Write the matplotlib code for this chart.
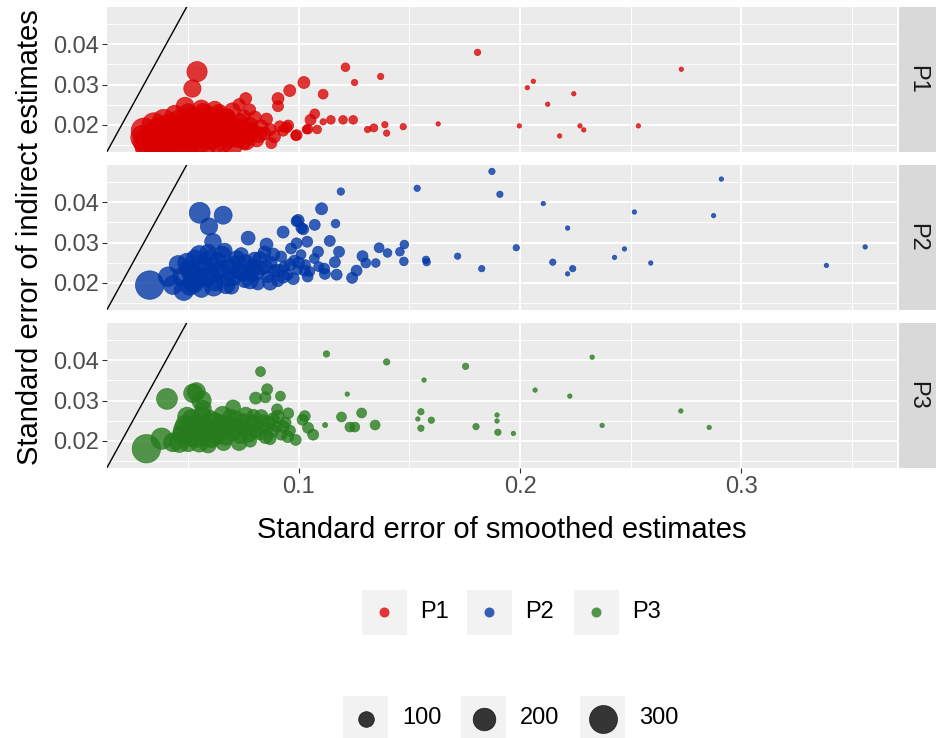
import numpy as np
import matplotlib.pyplot as plt
from matplotlib.patches import Rectangle

panels = ['P1', 'P2', 'P3']
colours = ['#DA0000', '#0036A6', '#267B1C']
size_breaks = [100, 200, 300]

# P1 (x = SE smoothed, y = SE indirect, n = size)
p1_x = [0.0296, 0.0310, 0.0335, 0.0350, 0.0365, 0.0380, 0.0400, 0.0410, 0.0425, 0.0440,
        0.0455, 0.0470, 0.0480, 0.0495, 0.0505, 0.0520, 0.0535, 0.0550, 0.0565, 0.0580,
        0.0590, 0.0605, 0.0620, 0.0635, 0.0650, 0.0660, 0.0675, 0.0690, 0.0705, 0.0720,
        0.0735, 0.0750, 0.0765, 0.0780, 0.0795, 0.0810, 0.0830, 0.0845, 0.0870, 0.0890,
        0.0300, 0.0320, 0.0345, 0.0360, 0.0375, 0.0390, 0.0405, 0.0420, 0.0435, 0.0450,
        0.0465, 0.0478, 0.0490, 0.0510, 0.0525, 0.0545, 0.0560, 0.0575, 0.0595, 0.0610,
        0.0628, 0.0645, 0.0668, 0.0685, 0.0700, 0.0715, 0.0742, 0.0760, 0.0785, 0.0820,
        0.0440, 0.0500, 0.0560, 0.0640, 0.0700,
        0.0540, 0.0519, 0.0486, 0.0620, 0.0567, 0.0680, 0.0751, 0.0801, 0.0854, 0.0760,
        0.0730, 0.0778, 0.0906, 0.0906, 0.0914, 0.0952, 0.0990, 0.1041, 0.0876, 0.0756,
        0.0944, 0.0929, 0.0959, 0.1023, 0.1110, 0.1072, 0.1053, 0.1110, 0.1145, 0.1200,
        0.1246, 0.1035, 0.1083, 0.0986, 0.1311, 0.1339, 0.1389, 0.1397, 0.1472, 0.1211,
        0.1252, 0.1370, 0.1808, 0.2729, 0.2060, 0.2033, 0.2243, 0.2125, 0.1630, 0.1997,
        0.2271, 0.2288, 0.2179, 0.2535]
p1_y = [0.0168, 0.0158, 0.0175, 0.0152, 0.0190, 0.0165, 0.0150, 0.0200, 0.0178, 0.0158,
        0.0210, 0.0188, 0.0165, 0.0150, 0.0220, 0.0195, 0.0172, 0.0155, 0.0205, 0.0228,
        0.0185, 0.0165, 0.0210, 0.0192, 0.0175, 0.0155, 0.0218, 0.0200, 0.0182, 0.0165,
        0.0208, 0.0190, 0.0172, 0.0200, 0.0182, 0.0162, 0.0195, 0.0178, 0.0188, 0.0170,
        0.0185, 0.0145, 0.0200, 0.0170, 0.0150, 0.0210, 0.0180, 0.0160, 0.0195, 0.0172,
        0.0152, 0.0205, 0.0180, 0.0160, 0.0215, 0.0185, 0.0170, 0.0150, 0.0200, 0.0180,
        0.0158, 0.0220, 0.0190, 0.0168, 0.0150, 0.0195, 0.0178, 0.0160, 0.0185, 0.0175,
        0.0225, 0.0230, 0.0240, 0.0230, 0.0235,
        0.0332, 0.0290, 0.0246, 0.0239, 0.0235, 0.0222, 0.0221, 0.0218, 0.0214, 0.0265,
        0.0250, 0.0237, 0.0265, 0.0246, 0.0196, 0.0198, 0.0174, 0.0189, 0.0154, 0.0154,
        0.0193, 0.0185, 0.0285, 0.0305, 0.0276, 0.0227, 0.0212, 0.0207, 0.0212, 0.0212,
        0.0212, 0.0188, 0.0188, 0.0173, 0.0188, 0.0192, 0.0200, 0.0179, 0.0195, 0.0343,
        0.0305, 0.0320, 0.0380, 0.0338, 0.0308, 0.0292, 0.0277, 0.0251, 0.0202, 0.0197,
        0.0197, 0.0187, 0.0172, 0.0197]
p1_n = [234, 256, 213, 245, 192, 223, 234, 171, 202, 213,
        161, 181, 202, 213, 140, 171, 181, 192, 150, 120,
        161, 171, 129, 140, 150, 140, 110, 120, 129, 120,
        100, 110, 110, 90, 90, 80, 80, 70, 61, 61,
        250, 270, 220, 240, 260, 200, 230, 240, 200, 220,
        240, 180, 200, 220, 160, 190, 200, 210, 160, 170,
        180, 130, 150, 160, 170, 120, 130, 140, 110, 100,
        140, 130, 120, 110, 100,
        161, 120, 129, 100, 90, 80, 70, 70, 61, 61,
        61, 61, 61, 52, 52, 52, 52, 43, 52, 61,
        52, 52, 61, 61, 43, 43, 52, 20, 34, 34,
        34, 34, 34, 43, 20, 30, 20, 20, 20, 34,
        20, 20, 20, 11, 11, 11, 11, 11, 11, 11,
        11, 11, 11, 11]

# P2
p2_x = [0.0326, 0.0431, 0.0470, 0.0507, 0.0500, 0.0530, 0.0545, 0.0560, 0.0575, 0.0590,
        0.0605, 0.0620, 0.0635, 0.0650, 0.0665, 0.0680, 0.0695, 0.0710, 0.0725, 0.0740,
        0.0755, 0.0770, 0.0785, 0.0800, 0.0815, 0.0830, 0.0845, 0.0860, 0.0875, 0.0890,
        0.0905, 0.0920, 0.0935, 0.0950, 0.0965, 0.0980, 0.0995, 0.1010, 0.1030, 0.1050,
        0.1070, 0.1090,
        0.0480, 0.0495, 0.0515, 0.0525, 0.0550, 0.0565, 0.0585, 0.0600, 0.0615, 0.0640,
        0.0655, 0.0670, 0.0690, 0.0705, 0.0720, 0.0745, 0.0760, 0.0780, 0.0795, 0.0810,
        0.0825, 0.0850, 0.0870, 0.0885, 0.0910, 0.0930, 0.0960, 0.0975, 0.1000, 0.1040,
        0.0410, 0.0455,
        0.0552, 0.0658, 0.0594, 0.0612, 0.0771, 0.0854, 0.0929, 0.1012,
        0.0990, 0.1072, 0.1190, 0.1103, 0.0997, 0.1020, 0.1166, 0.1140, 0.1182, 0.1163,
        0.1087, 0.1115, 0.1171, 0.1288, 0.1303, 0.1261, 0.1241, 0.1348, 0.1363, 0.1401,
        0.1457, 0.1477, 0.1475, 0.1578, 0.1575, 0.1038, 0.0990, 0.1027, 0.1118, 0.1873,
        0.1535, 0.1909, 0.1983, 0.1718, 0.2148, 0.1827, 0.2238, 0.2910, 0.2105, 0.2517,
        0.2875, 0.2215, 0.2472, 0.2427, 0.2591, 0.2215, 0.3560, 0.3385]
p2_y = [0.0194, 0.0194, 0.0215, 0.0192, 0.0235, 0.0260, 0.0210, 0.0185, 0.0240, 0.0275,
        0.0220, 0.0200, 0.0255, 0.0235, 0.0280, 0.0210, 0.0190, 0.0248, 0.0228, 0.0270,
        0.0205, 0.0240, 0.0220, 0.0260, 0.0198, 0.0235, 0.0275, 0.0215, 0.0250, 0.0230,
        0.0205, 0.0265, 0.0240, 0.0220, 0.0285, 0.0255, 0.0232, 0.0270, 0.0245, 0.0228,
        0.0260, 0.0240,
        0.0180, 0.0250, 0.0225, 0.0200, 0.0270, 0.0245, 0.0215, 0.0260, 0.0190, 0.0230,
        0.0270, 0.0195, 0.0240, 0.0215, 0.0260, 0.0225, 0.0250, 0.0205, 0.0240, 0.0225,
        0.0260, 0.0240, 0.0200, 0.0270, 0.0230, 0.0215, 0.0245, 0.0210, 0.0250, 0.0215,
        0.0215, 0.0245,
        0.0374, 0.0368, 0.0340, 0.0302, 0.0311, 0.0295, 0.0326, 0.0336,
        0.0353, 0.0344, 0.0427, 0.0384, 0.0355, 0.0333, 0.0347, 0.0304, 0.0277, 0.0251,
        0.0277, 0.0235, 0.0220, 0.0266, 0.0249, 0.0230, 0.0212, 0.0249, 0.0287, 0.0274,
        0.0277, 0.0295, 0.0253, 0.0251, 0.0257, 0.0302, 0.0298, 0.0230, 0.0222, 0.0477,
        0.0435, 0.0420, 0.0287, 0.0266, 0.0251, 0.0235, 0.0235, 0.0458, 0.0397, 0.0376,
        0.0367, 0.0336, 0.0284, 0.0263, 0.0249, 0.0222, 0.0289, 0.0243]
p2_n = [310, 140, 129, 140, 120, 120, 129, 120, 120, 110,
        120, 110, 110, 100, 90, 100, 90, 90, 90, 80,
        80, 80, 80, 70, 70, 70, 70, 61, 61, 61,
        61, 52, 52, 52, 52, 52, 43, 43, 43, 43,
        43, 43,
        150, 140, 150, 160, 130, 130, 140, 120, 140, 120,
        110, 130, 110, 120, 100, 110, 100, 110, 90, 90,
        80, 80, 90, 70, 70, 70, 60, 60, 55, 50,
        150, 130,
        171, 129, 120, 110, 80, 70, 61, 52,
        52, 52, 26, 61, 61, 52, 34, 52, 52, 52,
        52, 52, 52, 52, 43, 52, 52, 34, 43, 34,
        34, 34, 34, 26, 26, 52, 52, 52, 52, 20,
        20, 20, 20, 20, 20, 20, 20, 11, 11, 11,
        11, 11, 11, 11, 11, 11, 11, 11]

# P3
p3_x = [0.0311, 0.0404, 0.0431, 0.0470, 0.0485, 0.0500, 0.0515, 0.0522, 0.0537, 0.0530,
        0.0545, 0.0560, 0.0567, 0.0575, 0.0590, 0.0600, 0.0615, 0.0630, 0.0645, 0.0660,
        0.0675, 0.0690, 0.0703, 0.0720, 0.0735, 0.0750, 0.0765, 0.0780, 0.0795, 0.0810,
        0.0825, 0.0840, 0.0855, 0.0870, 0.0885, 0.0900, 0.0920, 0.0940, 0.0960,
        0.0460, 0.0478, 0.0495, 0.0510, 0.0525, 0.0550, 0.0565, 0.0585, 0.0605, 0.0620,
        0.0640, 0.0655, 0.0670, 0.0685, 0.0700, 0.0715, 0.0730, 0.0745, 0.0760, 0.0775,
        0.0790, 0.0805, 0.0830, 0.0850, 0.0865, 0.0880, 0.0905, 0.0930, 0.0950, 0.0380,
        0.0560,
        0.0827, 0.0857, 0.0805, 0.0849, 0.0917, 0.0952, 0.0902, 0.1027, 0.1017, 0.1042,
        0.1065, 0.0986, 0.1119, 0.1193, 0.1284, 0.1253, 0.1231, 0.1345, 0.1125, 0.1397,
        0.1754, 0.1552, 0.1599, 0.1552, 0.1801, 0.1900, 0.1566, 0.1219, 0.2326, 0.2068,
        0.2225, 0.2727, 0.2855, 0.2371, 0.1538, 0.1896, 0.1896, 0.1970]
p3_y = [0.0180, 0.0304, 0.0196, 0.0215, 0.0240, 0.0195, 0.0255, 0.0318, 0.0322, 0.0225,
        0.0205, 0.0240, 0.0280, 0.0215, 0.0190, 0.0255, 0.0230, 0.0210, 0.0245, 0.0195,
        0.0225, 0.0260, 0.0283, 0.0238, 0.0210, 0.0250, 0.0228, 0.0200, 0.0262, 0.0240,
        0.0218, 0.0250, 0.0230, 0.0205, 0.0255, 0.0235, 0.0215, 0.0245, 0.0225,
        0.0195, 0.0228, 0.0260, 0.0210, 0.0240, 0.0195, 0.0262, 0.0230, 0.0205, 0.0248,
        0.0225, 0.0265, 0.0210, 0.0240, 0.0220, 0.0255, 0.0195, 0.0235, 0.0265, 0.0215,
        0.0245, 0.0225, 0.0260, 0.0210, 0.0245, 0.0225, 0.0260, 0.0235, 0.0210, 0.0205,
        0.0300,
        0.0372, 0.0328, 0.0306, 0.0308, 0.0311, 0.0268, 0.0278, 0.0261, 0.0252, 0.0232,
        0.0215, 0.0202, 0.0239, 0.0259, 0.0269, 0.0234, 0.0234, 0.0239, 0.0416, 0.0396,
        0.0385, 0.0272, 0.0251, 0.0231, 0.0235, 0.0221, 0.0351, 0.0316, 0.0408, 0.0326,
        0.0311, 0.0274, 0.0233, 0.0238, 0.0254, 0.0264, 0.0249, 0.0218]
p3_n = [310, 171, 140, 140, 140, 129, 129, 140, 129, 129,
        120, 120, 110, 120, 110, 110, 110, 100, 100, 100,
        90, 90, 90, 90, 80, 80, 80, 70, 70, 70,
        70, 61, 61, 61, 61, 52, 52, 52, 52,
        150, 150, 140, 150, 140, 140, 130, 130, 130, 120,
        120, 110, 120, 110, 110, 100, 100, 100, 90, 90,
        90, 80, 80, 80, 70, 70, 70, 60, 60, 180,
        150,
        43, 52, 61, 52, 43, 52, 52, 52, 52, 52,
        52, 52, 14, 43, 43, 43, 43, 43, 20, 20,
        20, 20, 20, 20, 20, 20, 11, 11, 11, 11,
        11, 11, 11, 11, 11, 11, 11, 11]

data_x = [p1_x, p2_x, p3_x]
data_y = [p1_y, p2_y, p3_y]
data_n = [p1_n, p2_n, p3_n]

W, H = 938, 738
ALPHA = 0.78


def point_area(n):
    # ggplot-like area scale: diameter (px) linear in sqrt(n), px -> pt at 100 dpi
    d = 15.7 + 1.68 * (np.sqrt(np.asarray(n, dtype=float)) - 10)
    return (d * 0.72) ** 2


def rect(left, top, width, height):
    return [left / W, 1 - (top + height) / H, width / W, height / H]


plt.rcParams['font.family'] = ['Liberation Sans', 'DejaVu Sans']

fig = plt.figure(figsize=(W / 100, H / 100), dpi=100)
fig.patch.set_facecolor('white')

# overlay for legends / labels in pixel space
ov = fig.add_axes([0, 0, 1, 1])
ov.set_xlim(0, W)
ov.set_ylim(H, 0)
ov.axis('off')

tops = [7, 165, 323]
pan_left, pan_w, pan_h = 107, 790, 145

for i, name in enumerate(panels):
    ax = fig.add_axes(rect(pan_left, tops[i], pan_w, pan_h))
    ax.set_facecolor('#EBEBEB')
    for s in ax.spines.values():
        s.set_visible(False)
    ax.set_xlim(0.0133, 0.3704)
    ax.set_ylim(0.0132, 0.0493)
    ax.set_xticks([0.1, 0.2, 0.3])
    ax.set_xticks([0.05, 0.15, 0.25, 0.35], minor=True)
    ax.set_yticks([0.02, 0.03, 0.04])
    ax.set_yticks([0.015, 0.025, 0.035, 0.045], minor=True)
    ax.grid(True, which='major', color='white', lw=1.4)
    ax.grid(True, which='minor', color='white', lw=0.7)
    ax.set_axisbelow(True)
    ax.tick_params(which='major', length=3.5, width=0.8, color='#333333',
                   labelcolor='#4D4D4D', labelsize=17, pad=2.5)
    ax.tick_params(which='minor', length=0)
    ax.set_yticklabels(['0.02', '0.03', '0.04'])
    if i < 2:
        ax.tick_params(axis='x', which='major', length=0, labelbottom=False)
    else:
        ax.set_xticklabels(['0.1', '0.2', '0.3'])

    ax.axline((0, 0), slope=1, color='black', lw=1.0, zorder=3)
    ax.scatter(data_x[i], data_y[i], s=point_area(data_n[i]), color=colours[i],
               alpha=ALPHA, edgecolors=colours[i], linewidths=0.5, zorder=2)

    # facet strip
    sax = fig.add_axes(rect(899, tops[i], 37, pan_h))
    sax.set_facecolor('#D9D9D9')
    sax.set_xticks([])
    sax.set_yticks([])
    for s in sax.spines.values():
        s.set_visible(False)
    sax.text(0.5, 0.5, name, rotation=-90, ha='center', va='center',
             fontsize=17, color='#1A1A1A', transform=sax.transAxes)

# axis titles
ov.text(pan_left + pan_w / 2, 530, 'Standard error of smoothed estimates',
        ha='center', va='center', fontsize=21, color='black')
ov.text(30, (tops[0] + tops[2] + pan_h) / 2, 'Standard error of indirect estimates',
        rotation=90, ha='center', va='center', fontsize=21, color='black')

# colour legend
key = 45
col_keys = [362, 467, 574]
for i, name in enumerate(panels):
    kx = col_keys[i]
    ov.add_patch(Rectangle((kx, 590), key, key, facecolor='#F2F2F2', edgecolor='none'))
    ov.scatter([kx + key / 2], [590 + key / 2], s=(10 * 0.72) ** 2, color=colours[i],
               alpha=ALPHA, edgecolors='none')
    ov.text(kx + key + 13, 590 + key / 2, name, ha='left', va='center',
            fontsize=17, color='black')

# size legend
size_keys = [343, 461, 580]
for i, b in enumerate(size_breaks):
    kx = size_keys[i]
    ov.add_patch(Rectangle((kx, 696), key, key, facecolor='#F2F2F2', edgecolor='none'))
    ov.scatter([kx + key / 2], [696 + key / 2], s=point_area(b), color='black',
               alpha=ALPHA, edgecolors='black', linewidths=0.5)
    ov.text(kx + key + 14, 696 + key / 2, str(b), ha='left', va='center',
            fontsize=17, color='black')

fig.savefig('out.png', dpi=100, facecolor='white')
